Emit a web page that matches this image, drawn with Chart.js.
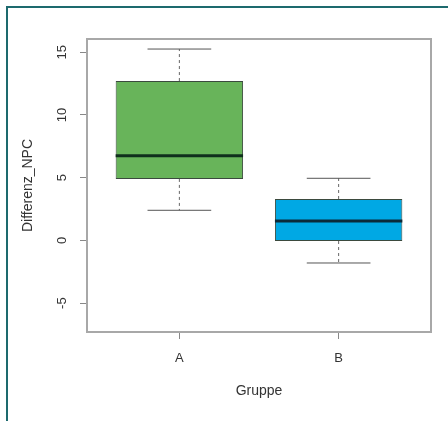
<!DOCTYPE html>
<html>
<head>
<meta charset="utf-8">
<script src="https://cdn.jsdelivr.net/npm/chart.js@4.4.1/dist/chart.umd.min.js"></script>
<style>
  html, body { margin: 0; padding: 0; background: #fff; }
  #wrap { position: relative; width: 448px; height: 421px; overflow: hidden; }
  #frame {
    position: absolute; left: 6px; top: 6px; width: 600px; height: 600px;
    border-top: 2px solid #1d6a6e; border-left: 2px solid #1d6a6e;
    pointer-events: none;
  }
</style>
</head>
<body>
<div id="wrap">
  <canvas id="chart" width="448" height="421"></canvas>
  <div id="frame"></div>
</div>
<script>
// Daten
const groups = ['A', 'B'];
const lowerWhisker = [2.4, -1.8];
const q1 = [4.9, -0.05];
const median = [6.75, 1.55];
const q3 = [12.7, 3.3];
const upperWhisker = [15.25, 4.95];
const yTicks = [-5, 0, 5, 10, 15];

const fills = ['#68b45a', '#00a8e4'];
const medianColors = ['#0f2f1c', '#0b2a3a'];
const FONT = 'Liberation Sans';

// Whisker, Median und Kappen wie bei R boxplot()
const boxExtras = {
  id: 'boxExtras',
  afterDatasetsDraw(chart) {
    const ctx = chart.ctx;
    const xs = chart.scales.x;
    const ys = chart.scales.y;
    groups.forEach((g, i) => {
      const xc = xs.getPixelForValue(i + 1);
      const bx0 = xs.getPixelForValue(i + 1 - 0.4);
      const bx1 = xs.getPixelForValue(i + 1 + 0.4);
      const cx0 = xs.getPixelForValue(i + 1 - 0.2);
      const cx1 = xs.getPixelForValue(i + 1 + 0.2);
      ctx.save();
      // gestrichelte Whisker
      ctx.strokeStyle = '#666';
      ctx.lineWidth = 1;
      ctx.setLineDash([3, 3]);
      ctx.beginPath();
      ctx.moveTo(xc, ys.getPixelForValue(q3[i]));
      ctx.lineTo(xc, ys.getPixelForValue(upperWhisker[i]));
      ctx.moveTo(xc, ys.getPixelForValue(q1[i]));
      ctx.lineTo(xc, ys.getPixelForValue(lowerWhisker[i]));
      ctx.stroke();
      // Kappen
      ctx.setLineDash([]);
      ctx.strokeStyle = '#555';
      ctx.beginPath();
      ctx.moveTo(cx0, ys.getPixelForValue(upperWhisker[i]));
      ctx.lineTo(cx1, ys.getPixelForValue(upperWhisker[i]));
      ctx.moveTo(cx0, ys.getPixelForValue(lowerWhisker[i]));
      ctx.lineTo(cx1, ys.getPixelForValue(lowerWhisker[i]));
      ctx.stroke();
      // Median
      ctx.strokeStyle = medianColors[i];
      ctx.lineWidth = 3;
      ctx.beginPath();
      ctx.moveTo(bx0, ys.getPixelForValue(median[i]));
      ctx.lineTo(bx1, ys.getPixelForValue(median[i]));
      ctx.stroke();
      ctx.restore();
    });
    // Rahmen um den Plotbereich
    const a = chart.chartArea;
    ctx.save();
    ctx.strokeStyle = '#a8a8a8';
    ctx.lineWidth = 2;
    ctx.strokeRect(a.left, a.top, a.right - a.left, a.bottom - a.top);
    // y-Beschriftung parallel zur Achse (wie R, las = 0)
    ctx.fillStyle = '#333';
    ctx.font = '13px "' + FONT + '"';
    ctx.textAlign = 'center';
    ctx.textBaseline = 'middle';
    ys.ticks.forEach((t) => {
      ctx.save();
      ctx.translate(a.left - 25, ys.getPixelForValue(t.value));
      ctx.rotate(-Math.PI / 2);
      ctx.fillText(String(t.value), 0, 0);
      ctx.restore();
    });
    ctx.restore();
  }
};

const ctx = document.getElementById('chart').getContext('2d');
new Chart(ctx, {
  type: 'bar',
  data: {
    datasets: [{
      data: groups.map((g, i) => ({ x: i + 1, y: [q1[i], q3[i]] })),
      backgroundColor: fills,
      borderColor: '#3b4a3e',
      borderWidth: 1,
      borderSkipped: false,
      barPercentage: 0.8,
      categoryPercentage: 1
    }]
  },
  options: {
    responsive: false,
    animation: false,
    layout: { padding: { left: 0, top: 39, right: 17, bottom: 0 } },
    plugins: { legend: { display: false }, tooltip: { enabled: false } },
    scales: {
      x: {
        type: 'linear',
        offset: false,
        min: 0.42,
        max: 2.58,
        afterBuildTicks: (s) => { s.ticks = groups.map((g, i) => ({ value: i + 1 })); },
        afterFit: (s) => { s.height = 421 - 332; },
        ticks: {
          callback: (v) => groups[v - 1] || '',
          color: '#333',
          font: { family: FONT, size: 13 },
          padding: 12,
          maxRotation: 0
        },
        grid: { offset: false, drawOnChartArea: false, drawTicks: true, tickLength: 7, color: '#888' },
        border: { display: false },
        title: {
          display: true,
          text: 'Gruppe',
          color: '#333',
          font: { family: FONT, size: 14 },
          padding: { top: 0, bottom: 21 }
        }
      },
      y: {
        min: -7.3,
        max: 16.05,
        afterBuildTicks: (s) => { s.ticks = yTicks.map(v => ({ value: v })); },
        afterFit: (s) => { s.width = 87; },
        ticks: { display: false },
        grid: { drawOnChartArea: false, drawTicks: true, tickLength: 7, color: '#888' },
        border: { display: false },
        title: {
          display: true,
          text: 'Differenz_NPC',
          color: '#333',
          font: { family: FONT, size: 14 },
          padding: { top: 20, bottom: 0 }
        }
      }
    }
  },
  plugins: [boxExtras]
});
</script>
</body>
</html>
